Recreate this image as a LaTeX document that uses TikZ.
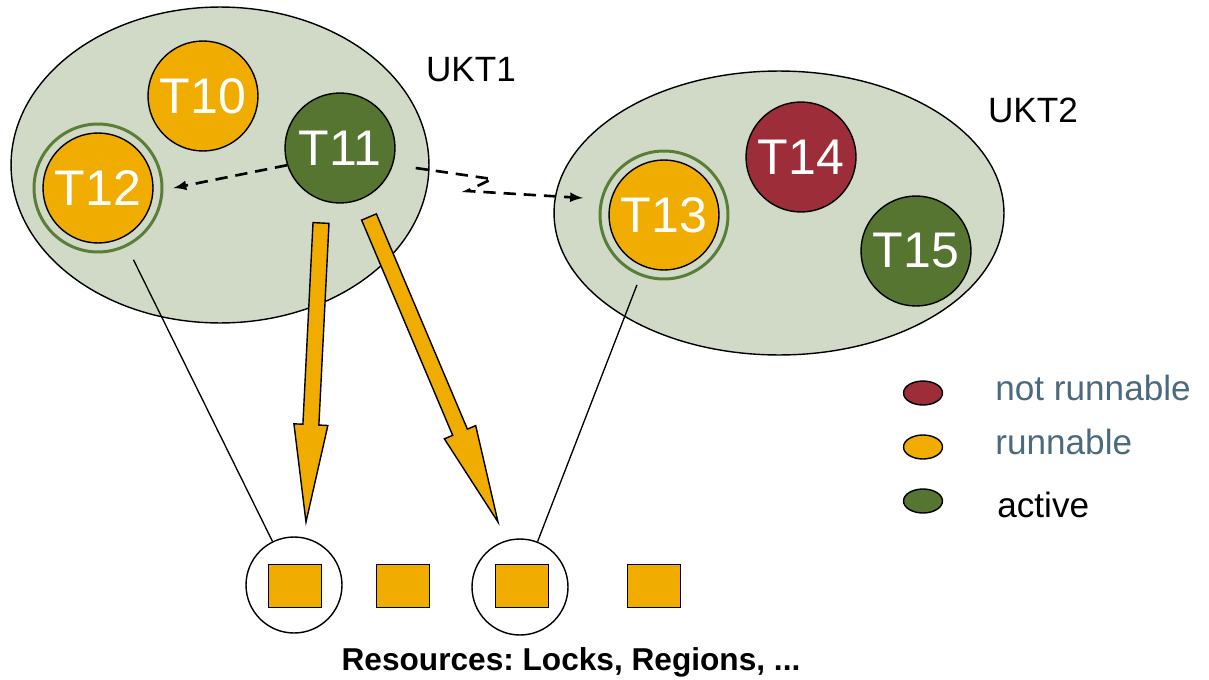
\documentclass[tikz,border=0pt]{standalone}
\usepackage{fontspec}
\setmainfont{Liberation Sans}
\usepackage{tikz}
\usetikzlibrary{shapes,positioning,arrows,calc}
\frenchspacing

\definecolor{ukt}{HTML}{D0DAC6}
\definecolor{runnable}{HTML}{F0AD00}
\definecolor{active}{HTML}{557530}
\definecolor{blocked}{HTML}{9C2D39}
\definecolor{ring}{HTML}{5A7D38}
\definecolor{legend}{HTML}{4B6A80}

% fat orange arrow from #1 to #2 (tip)
\newcommand{\fatarrow}[2]{%
  \path ($(#2)!1.95cm!(#1)$) coordinate (hb);
  \draw[fat] ($(#1)!0.16cm!90:(#2)$) -- ($(hb)!0.16cm!90:(#2)$) -- ($(hb)!0.34cm!90:(#2)$) -- (#2)
    -- ($(hb)!0.34cm!-90:(#2)$) -- ($(hb)!0.16cm!-90:(#2)$) -- ($(#1)!0.16cm!-90:(#2)$) -- cycle;}

\begin{document}
\begin{tikzpicture}[x=0.02cm,y=-0.02cm]
        %
        % `kthread' is the kernel thread (big ellipse), `thread' the user threads.
        % `waiting' is the green ring round a waiting thread.
        \tikzstyle{kthread} = [ellipse,draw,fill=ukt,line width=0.8pt,inner sep=0pt]
        \tikzstyle{thread} = [circle,draw,line width=0.8pt,minimum size=2.2cm,inner sep=0pt,text=white,font=\fontsize{28.5}{32}\selectfont]
        \tikzstyle{waiting} = [circle,draw=ring,line width=1.7pt,minimum size=2.56cm,inner sep=0pt]
        \tikzstyle{holder} = [circle,draw,line width=0.8pt,minimum size=1.92cm,inner sep=0pt]
        \tikzstyle{resource} = [draw,fill=runnable,line width=0.9pt,minimum width=1.06cm,minimum height=0.86cm,inner sep=0pt]
        \tikzstyle{fat} = [draw,fill=runnable,line width=0.8pt]
        \tikzstyle{switch} = [line width=1.5pt,dash pattern=on 7pt off 4.5pt,-latex]
        \tikzstyle{key} = [ellipse,draw,line width=0.8pt,minimum width=0.78cm,minimum height=0.48cm,inner sep=0pt]
        \tikzset{keytext/.style={anchor=west,inner sep=0pt,font=\fontsize{20}{24}\selectfont}}
        \useasboundingbox (0,0) rectangle (1209,679);
        %
        % Kernel threads
        \node[kthread,minimum width=8.36cm,minimum height=6.32cm] (ukt1) at (220,165) {};
        \node[kthread,minimum width=9cm,minimum height=5.68cm] (ukt2) at (779,213) {};
        \node[font=\fontsize{20}{24}\selectfont] (ukt1name) at (471,70) {UKT1};
        \node[font=\fontsize{20}{24}\selectfont] (ukt2name) at (1033,110) {UKT2};
        %
        % User threads
        \node[waiting] (T12ring) at (98,188) {};
        \node[thread,fill=runnable] (T12) at (98,188) {T12};
        \node[thread,fill=runnable] (T10) at (203,96) {T10};
        \node[thread,fill=active] (T11) at (340,148) {T11};
        \node[waiting] (T13ring) at (664,215) {};
        \node[thread,fill=runnable] (T13) at (664,215) {T13};
        \node[thread,fill=blocked] (T14) at (801,157) {T14};
        \node[thread,fill=active] (T15) at (916,251) {T15};
        %
        % Resources
        \node[holder] (res1) at (294,585) {};
        \node[holder] (res3) at (520,587) {};
        \node[resource] (lock1) at (295,586) {};
        \node[resource] (lock2) at (403,586) {};
        \node[resource] (lock3) at (522,586) {};
        \node[resource] (lock4) at (654,586) {};
        \node[font=\bfseries\fontsize{18}{22}\selectfont,anchor=base] (restext) at (571,670) {Resources: Locks, Regions, ...};
        %
        % Legend
        \node[key,fill=blocked] (k1) at (923,393) {};
        \node[key,fill=runnable] (k2) at (923,447) {};
        \node[key,fill=active] (k3) at (923,501) {};
        \node[keytext,text=legend] (k1text) at (995,388) {not runnable};
        \node[keytext,text=legend] (k2text) at (995,442) {runnable};
        \node[keytext] (k3text) at (997,505) {active};
        %
        % Switches
        \draw[switch] (T11.198) -- ($(T12ring.east)+(10,0)$);
        \coordinate (z1) at (492,179);
        \coordinate (z2) at (467,191);
        \coordinate (z3) at (583,198);
        \draw[switch] ($(T11.east)+(20,20)$) -- (z1) -- (z2) -- (z3);
        %
        % Waiting for
        \draw[line width=0.75pt] ($(T12)!1.6cm!(res1)$) -- (res1);
        \draw[line width=0.75pt] ($(T13)!1.5cm!(res3)$) -- (res3);
        %
        % Holding
        \coordinate (a1s) at (321,223);
        \coordinate (a1e) at (306,522);
        \coordinate (a2s) at (369,217);
        \coordinate (a2e) at (498,522);
        \fatarrow{a1s}{a1e}
        \fatarrow{a2s}{a2e}
        %
    \end{tikzpicture}
\end{document}
